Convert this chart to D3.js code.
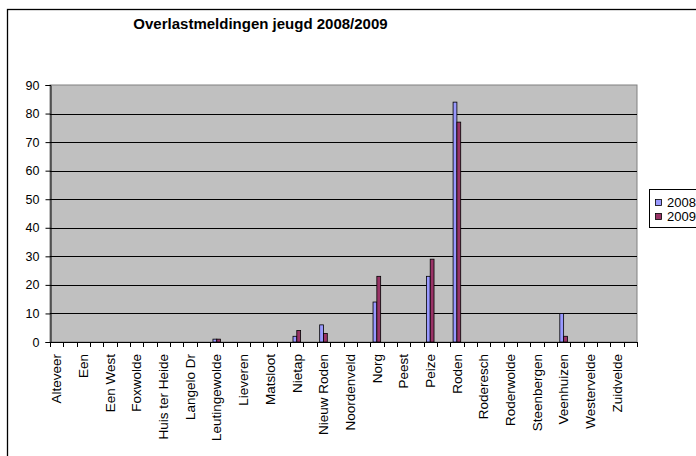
<!DOCTYPE html>
<html><head><meta charset="utf-8">
<script src="https://cdn.jsdelivr.net/npm/d3@7"></script>
<style>body{margin:0;background:#fff}svg{display:block;font-family:"Liberation Sans",Arial,sans-serif}</style>
</head><body>
<svg id="c" width="696" height="456"></svg>
<script>
const title = "Overlastmeldingen jeugd 2008/2009";
const categories = ["Alteveer","Een","Een West","Foxwolde","Huis ter Heide","Langelo Dr","Leutingewolde","Lieveren","Matsloot","Nietap","Nieuw Roden","Noordenveld","Norg","Peest","Peize","Roden","Roderesch","Roderwolde","Steenbergen","Veenhuizen","Westervelde","Zuidvelde"];
const series2008 = [0,0,0,0,0,0,1,0,0,2,6,0,14,0,23,84,0,0,0,10,0,0];
const series2009 = [0,0,0,0,0,0,1,0,0,4,3,0,23,0,29,77,0,0,0,2,0,0];
const seriesNames = ["2008","2009"];
const seriesColors = ["#9999FF","#993366"];
const yTicks = [0,10,20,30,40,50,60,70,80,90];

const svg = d3.select("#c");
const L = 50, R = 637, T = 85, B = 342;

// outer chart frame
svg.append("rect").attr("x",7.5).attr("y",9.5).attr("width",720).attr("height",480)
  .attr("fill","#fff").attr("stroke","#000").attr("stroke-width",1.3);

svg.append("text").attr("x",260.5).attr("y",29).attr("text-anchor","middle")
  .attr("font-size",15).attr("font-weight","bold").text(title);

const slots = d3.scaleBand().domain(d3.range(categories.length*2)).range([L,R]);
const y = d3.scaleLinear().domain([0,90]).range([B,T]);

// plot area
svg.append("rect").attr("x",L).attr("y",T).attr("width",R-L).attr("height",B-T)
  .attr("fill","#C0C0C0").attr("stroke","#808080").attr("stroke-width",1);

// gridlines
svg.append("g").selectAll("line").data(yTicks.filter(v=>v>0 && v<90)).join("line")
  .attr("x1",L).attr("x2",R).attr("y1",d=>Math.round(y(d))+0.5).attr("y2",d=>Math.round(y(d))+0.5)
  .attr("stroke","#000").attr("stroke-width",1);

// bars
const bw = slots.bandwidth()/3.5;
const data = categories.map((c,i)=>({c,i,v:[series2008[i],series2009[i]]}));
const gb = svg.append("g");
data.forEach(d=>{
  const cx = slots(2*d.i) + slots.bandwidth()/2;
  d.v.forEach((v,s)=>{
    if(v<=0) return;
    gb.append("rect").attr("x",cx - bw + s*bw).attr("y",y(v))
      .attr("width",bw).attr("height",y(0)-y(v))
      .attr("fill",seriesColors[s]).attr("stroke","#000").attr("stroke-width",0.8);
  });
});

// y axis
const ya = svg.append("g").attr("transform",`translate(${L+0.5},0)`)
  .call(d3.axisLeft(y).tickValues(yTicks).tickSize(5).tickPadding(6));
ya.selectAll("path,line").attr("stroke","#000");
ya.selectAll("text").attr("font-size",12.5).attr("font-family","Liberation Sans, Arial, sans-serif").attr("fill","#000");

// x axis line and ticks at category boundaries
svg.append("line").attr("x1",L).attr("x2",R).attr("y1",B+0.5).attr("y2",B+0.5).attr("stroke","#000");
const bounds = slots.domain().map(k=>slots(k)).concat([R]);
svg.append("g").selectAll("line").data(bounds).join("line")
  .attr("x1",d=>Math.round(d)+0.5).attr("x2",d=>Math.round(d)+0.5)
  .attr("y1",B).attr("y2",B+5).attr("stroke","#000");

// category labels
svg.append("g").selectAll("text").data(data).join("text")
  .attr("transform",d=>`translate(${slots(2*d.i)+slots.bandwidth()/2},354) rotate(-90)`)
  .attr("text-anchor","end").attr("dy","0.35em").attr("font-size",13.5).text(d=>d.c);

// legend
const lg = svg.append("g");
lg.append("rect").attr("x",649.5).attr("y",189.5).attr("width",60).attr("height",38)
  .attr("fill","#fff").attr("stroke","#000").attr("stroke-width",1);
seriesNames.forEach((n,s)=>{
  lg.append("rect").attr("x",655.5).attr("y",199.5+s*14).attr("width",6).attr("height",6)
    .attr("fill",seriesColors[s]).attr("stroke","#000").attr("stroke-width",0.8);
  lg.append("text").attr("x",667).attr("y",207+s*14).attr("font-size",13).text(n);
});
</script>
</body></html>
